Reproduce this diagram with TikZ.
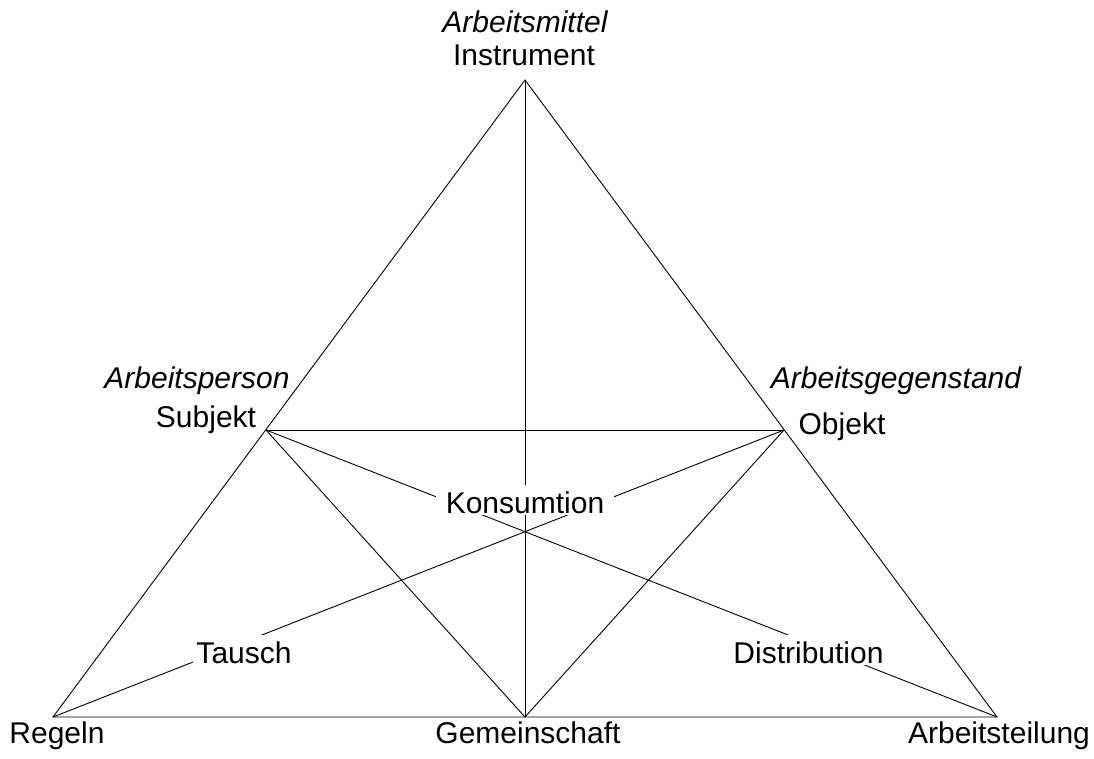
\documentclass[tikz,border=0pt]{standalone}
\usepackage{fontspec}
\setmainfont{Liberation Sans}
\begin{document}
\begin{tikzpicture}[x=1pt,y=-1pt,
  edge/.style={line width=0.9pt, black},
  lbl/.style={anchor=base, inner sep=0pt, font=\fontsize{30}{35}\selectfont},
  ital/.style={lbl, font=\fontsize{30}{35}\selectfont\itshape},
  cut/.style={lbl, fill=white, text height=28pt, text depth=2pt, inner xsep=3pt}]
\useasboundingbox (0,0) rectangle (1094,758);

% corners of the activity system
\coordinate (I) at (525,80);
\coordinate (S) at (266,430);
\coordinate (O) at (784,430);
\coordinate (R) at (53,717);
\coordinate (G) at (525,717);
\coordinate (A) at (997,717);

% triangle and inner connections
\draw[edge] (R) -- (I) -- (A) -- cycle;
\draw[edge] (S) -- (O);
\draw[edge] (I) -- (G);
\draw[edge] (S) -- (G) -- (O);
\draw[edge] (S) -- (A);
\draw[edge] (O) -- (R);

% labels sitting on the lines
\node[cut, inner xsep=10pt] (kons) at (525,513) {Konsumtion};
\node[cut] (tausch) at (244,663) {Tausch};
\node[cut] (dist) at (808.5,663) {Distribution};

% corner labels
\node[ital] (mittel) at (525,32) {Arbeitsmittel};
\node[lbl] (instr) at (524,65) {Instrument};
\node[ital] (person) at (197,388) {Arbeitsperson};
\node[lbl] (subj) at (206,427) {Subjekt};
\node[ital] (gegen) at (896,388) {Arbeitsgegenstand};
\node[lbl] (obj) at (842,434) {Objekt};
\node[lbl] (regeln) at (57,743) {Regeln};
\node[lbl] (gemein) at (528,743) {Gemeinschaft};
\node[lbl] (teil) at (999,743) {Arbeitsteilung};
\end{tikzpicture}
\end{document}
